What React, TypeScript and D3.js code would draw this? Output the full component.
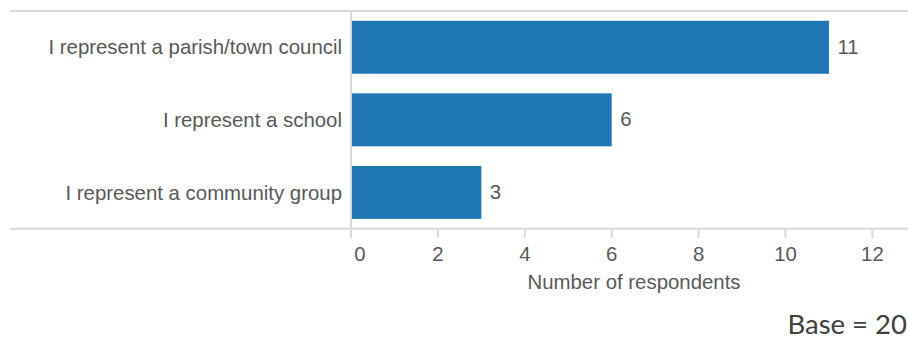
import React from "react";
import * as d3 from "d3";

const categories = [
  "I represent a parish/town council",
  "I represent a school",
  "I represent a community group",
];
const values = [11, 6, 3];
const xTicks = [0, 2, 4, 6, 8, 10, 12];
const xTitle = "Number of respondents";
const baseNote = "Base = 20";

const W = 908;
const H = 340;
const FONT = "'Liberation Sans', Arial, sans-serif";
const FS = 20.4;

export default function App() {
  const x = d3.scaleLinear().domain([0, 12]).range([351, 872.4]);
  const y = d3
    .scaleBand<string>()
    .domain(categories)
    .range([11, 228.7])
    .paddingInner(0.27)
    .paddingOuter(0.135);

  return (
    <svg
      width={W}
      height={H}
      style={{ position: "absolute", left: 0, top: 0, background: "#fff" }}
    >
      {/* top border */}
      <line x1={10} x2={908} y1={11} y2={11} stroke="#d9d9d9" strokeWidth={2} />
      {/* bottom axis line */}
      <line x1={10} x2={908} y1={228.7} y2={228.7} stroke="#d9d9d9" strokeWidth={2} />
      {/* vertical axis */}
      <line x1={x(0)} x2={x(0)} y1={11} y2={228.7} stroke="#d9d9d9" strokeWidth={2} />
      {/* ticks */}
      {xTicks.map((t) => (
        <g key={t}>
          <line x1={x(t)} x2={x(t)} y1={230} y2={238} stroke="#d9d9d9" strokeWidth={2} />
          <text
            x={x(t) + (t === 0 ? 9 : 0)}
            y={260.7}
            textAnchor="middle"
            fontFamily={FONT}
            fontSize={FS}
            fill="#595959"
          >
            {t}
          </text>
        </g>
      ))}
      {/* bars */}
      {categories.map((c, i) => {
        const by = y(c)!;
        const bh = y.bandwidth();
        return (
          <g key={c}>
            <rect x={x(0) + 1} y={by} width={x(values[i]) - x(0) - 1} height={bh} fill="#1f77b4" />
            <text
              x={342}
              y={by + bh / 2 + 7.2}
              textAnchor="end"
              fontFamily={FONT}
              fontSize={FS}
              fill="#595959"
            >
              {c}
            </text>
            <text
              x={x(values[i]) + 8.5}
              y={by + bh / 2 + 6.5}
              textAnchor="start"
              fontFamily={FONT}
              fontSize={FS}
              fill="#595959"
            >
              {values[i]}
            </text>
          </g>
        );
      })}
      <text
        x={634}
        y={289.3}
        textAnchor="middle"
        fontFamily={FONT}
        fontSize={FS}
        fill="#595959"
      >
        {xTitle}
      </text>
      <text
        x={907}
        y={334}
        textAnchor="end"
        fontFamily="Lato, 'Open Sans', sans-serif"
        fontSize={27.5}
        fill="#404040"
      >
        {baseNote}
      </text>
    </svg>
  );
}
